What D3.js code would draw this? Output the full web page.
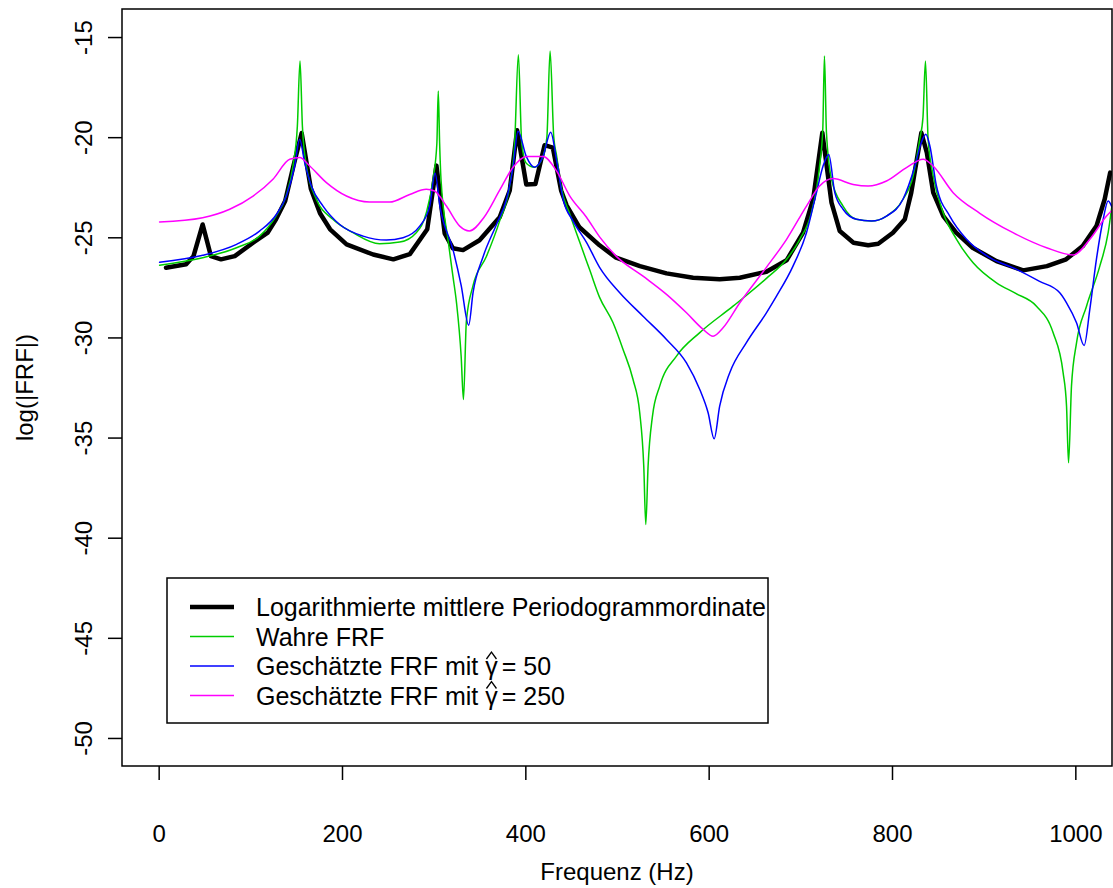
<!DOCTYPE html>
<html>
<head>
<meta charset="utf-8">
<script src="https://cdn.jsdelivr.net/npm/d3@7"></script>
<style>
  body { margin: 0; background: #fff; }
  svg text { font-family: "Liberation Sans", Arial, sans-serif; fill: #000; }
</style>
</head>
<body>
<svg id="chart" width="1113" height="888"></svg>
<script>
// Logarithmierte mittlere Periodogrammordinate (schwarz)
const periodogramFreq = [8, 30, 38, 48, 57, 68, 83, 103, 119, 128, 138, 147, 156, 166, 176, 187, 205, 234, 256, 274, 293, 303, 312, 321, 332, 350, 372, 383, 391, 401, 411, 421, 430, 439, 445, 459, 481, 499, 525, 554, 583, 612, 634, 663, 685, 703, 714, 724, 734, 743, 758, 774, 785, 801, 814, 821, 832, 838, 845, 856, 870, 888, 914, 943, 969, 990, 1008, 1023, 1032, 1038];
const periodogramLog = [-26.52, -26.35, -25.94, -24.36, -25.94, -26.1, -25.94, -25.27, -24.77, -24.1, -23.19, -21.44, -19.8, -22.57, -23.8, -24.6, -25.35, -25.86, -26.1, -25.84, -24.6, -21.42, -24.8, -25.55, -25.64, -25.15, -24.0, -22.66, -19.65, -22.36, -22.34, -20.4, -20.52, -22.66, -23.4, -24.5, -25.4, -26.02, -26.44, -26.8, -27.02, -27.1, -27.02, -26.72, -26.15, -24.77, -23.1, -19.78, -23.27, -24.69, -25.27, -25.4, -25.32, -24.77, -24.1, -22.77, -19.78, -20.77, -22.77, -23.94, -24.77, -25.52, -26.19, -26.65, -26.44, -26.1, -25.44, -24.44, -23.1, -21.77];

// Wahre FRF (gruen)
const trueFreq = [1, 48, 85, 110, 128, 139, 146.5, 151.3, 154.2, 156.8, 161.2, 172, 190, 212, 241, 263, 281, 292, 299.3, 303.5, 305, 306.5, 308, 315.6, 321, 325, 330, 332.5, 335.7, 343, 357.5, 372, 383, 388.4, 392.4, 396, 401, 410, 419, 423.5, 427, 431, 434, 439.4, 448.4, 459.4, 470, 481, 495.7, 506.6, 517.5, 524.8, 529.2, 531.4, 533.9, 538.7, 546.6, 564.9, 590, 626.6, 663, 685, 699.4, 712, 721, 724.5, 726.3, 728.5, 734, 746.6, 761, 777.6, 794, 812, 823, 830.3, 833.8, 836.5, 839.4, 845, 855.8, 870.4, 888.5, 914, 935, 957.6, 975.8, 986.7, 990.4, 992.6, 995.8, 1001.3, 1012.2, 1026.7, 1035.8, 1040];
const trueLog = [-26.39, -26.02, -25.52, -24.94, -23.94, -22.94, -21.44, -19.45, -16.2, -19.45, -21.44, -23.1, -24.1, -24.77, -25.32, -25.24, -24.77, -23.77, -22.1, -20.3, -17.7, -20.3, -22.1, -25.1, -26.94, -28.3, -30.95, -33.1, -29.17, -27.4, -25.96, -24.18, -22.4, -20.25, -15.88, -20.25, -21.3, -21.5, -21.0, -20.0, -15.7, -20.0, -20.9, -22.56, -23.82, -25.25, -26.6, -28.0, -29.27, -30.6, -32.1, -33.76, -36.43, -39.34, -36.43, -33.93, -32.43, -30.93, -29.77, -28.44, -27.05, -26.1, -25.1, -23.77, -21.44, -19.6, -15.95, -19.78, -22.1, -23.44, -24.1, -24.19, -23.94, -23.1, -21.94, -20.1, -19.0, -16.2, -20.1, -21.94, -23.77, -25.1, -26.27, -27.27, -27.8, -28.44, -29.77, -31.77, -33.43, -36.26, -32.43, -30.27, -28.44, -26.44, -24.77, -23.4];

// Geschaetzte FRF mit gamma = 50 (blau)
const est50Freq = [1, 48, 85, 110, 128.4, 139.3, 148.4, 153.8, 159.3, 166.6, 179.3, 197.5, 223, 248.4, 266.6, 284.8, 295.7, 301.5, 307, 321, 330, 338.2, 343, 354, 368.5, 379.4, 386.6, 392, 401, 410, 419.3, 427.7, 434, 441.2, 452, 466.7, 481, 503, 528.4, 554, 575.8, 590.3, 599.4, 606, 612, 623, 641, 663, 674, 692, 706.7, 717.6, 724.8, 731, 737.6, 746.6, 761.2, 777.6, 794, 812, 825, 832, 836.9, 841.3, 848.5, 863, 881.3, 906.7, 935.8, 961, 983, 990.4, 1001.3, 1009.6, 1015.8, 1023, 1030.4, 1035.8, 1040];
const est50Log = [-26.24, -25.9, -25.35, -24.69, -23.86, -22.94, -21.44, -20.1, -21.27, -22.44, -23.44, -24.36, -24.94, -25.14, -25.02, -24.44, -23.44, -21.8, -23.5, -25.6, -27.4, -29.39, -27.75, -25.96, -24.36, -23.1, -21.5, -19.7, -20.96, -21.5, -20.96, -19.75, -21.14, -23.1, -24.18, -25.25, -26.5, -27.77, -28.94, -30.1, -31.27, -32.6, -33.76, -35.06, -33.43, -31.76, -30.27, -28.77, -27.94, -26.44, -24.77, -22.77, -21.44, -20.86, -22.77, -23.6, -24.1, -24.19, -23.94, -23.1, -21.44, -20.27, -19.86, -20.44, -22.44, -23.94, -25.1, -26.02, -26.6, -27.2, -27.77, -28.27, -29.27, -30.4, -28.6, -26.1, -24.1, -23.19, -23.5];

// Geschaetzte FRF mit gamma = 250 (magenta)
const est250Freq = [1, 48, 77.5, 103, 124.7, 143, 153.8, 164.8, 183, 204.8, 230, 252, 273.9, 292, 301, 313.9, 328.4, 339, 355, 372, 386.6, 401, 419.3, 434, 448.4, 466.7, 481, 499, 528.4, 554, 575.8, 594, 604.8, 615.7, 634, 663, 685, 706.7, 721, 735.7, 757.6, 774, 794, 815.8, 834, 844.8, 866.7, 895.8, 932, 968.6, 997.6, 1015.8, 1034, 1041];
const est250Log = [-24.24, -24.02, -23.6, -22.94, -22.1, -21.1, -21.02, -21.44, -22.27, -22.94, -23.24, -23.24, -22.86, -22.6, -22.69, -23.44, -24.44, -24.68, -24.0, -22.65, -21.5, -20.96, -20.96, -21.68, -22.93, -24.0, -24.98, -25.94, -26.94, -27.85, -28.77, -29.6, -29.94, -29.52, -28.27, -26.5, -25.1, -23.44, -22.44, -22.07, -22.36, -22.44, -22.19, -21.52, -21.1, -21.44, -22.77, -23.8, -24.77, -25.52, -25.88, -25.1, -23.94, -23.6];

const xTicks = [0, 200, 400, 600, 800, 1000];
const yTicks = [-50, -45, -40, -35, -30, -25, -20, -15];

const legendLabels = ["Logarithmierte mittlere Periodogrammordinate", "Wahre FRF", "Geschätzte FRF mit γ", "Geschätzte FRF mit γ"];
const legendGamma = [null, null, "50", "250"];
const legendColors = ["#000000", "#00CD00", "#0000FF", "#FF00FF"];
const legendWidths = [4.5, 1.5, 1.5, 1.5];

const plotLeft = 122, plotRight = 1112, plotTop = 9, plotBottom = 766;

const svg = d3.select("#chart");

const x = d3.scaleLinear().domain([-40, 1040]).range([plotLeft, plotRight]);
const y = d3.scaleLinear().domain([-51.4, -13.6]).range([plotBottom, plotTop]);

svg.append("defs").append("clipPath")
    .attr("id", "plotClip")
    .append("rect")
    .attr("x", plotLeft).attr("y", plotTop)
    .attr("width", plotRight - plotLeft).attr("height", plotBottom - plotTop);

const series = [
    { freq: periodogramFreq, vals: periodogramLog, color: "#000000", width: 4.5, curve: d3.curveLinear },
    { freq: trueFreq, vals: trueLog, color: "#00CD00", width: 1.5, curve: d3.curveMonotoneX },
    { freq: est50Freq, vals: est50Log, color: "#0000FF", width: 1.5, curve: d3.curveMonotoneX },
    { freq: est250Freq, vals: est250Log, color: "#FF00FF", width: 1.5, curve: d3.curveMonotoneX }
];

const plotArea = svg.append("g").attr("clip-path", "url(#plotClip)");
series.forEach(s => {
    const line = d3.line()
        .x(d => x(d[0]))
        .y(d => y(d[1]))
        .curve(s.curve);
    plotArea.append("path")
        .datum(s.freq.map((f, i) => [f, s.vals[i]]))
        .attr("fill", "none")
        .attr("stroke", s.color)
        .attr("stroke-width", s.width)
        .attr("stroke-linejoin", "round")
        .attr("stroke-linecap", "round")
        .attr("d", line);
});

// Rahmen
svg.append("rect")
    .attr("x", plotLeft).attr("y", plotTop)
    .attr("width", plotRight - plotLeft).attr("height", plotBottom - plotTop)
    .attr("fill", "none")
    .attr("stroke", "#000")
    .attr("stroke-width", 1.5);

// x-Achse
const xAxis = svg.append("g")
    .attr("transform", `translate(0,${plotBottom})`)
    .call(d3.axisBottom(x).tickValues(xTicks).tickSize(14).tickFormat(d3.format("d")));
xAxis.select(".domain").remove();
xAxis.selectAll("line").attr("stroke", "#000").attr("stroke-width", 1.5);
xAxis.selectAll("text")
    .attr("y", 76)
    .attr("dy", 0)
    .style("font-size", "24px")
    .style("font-family", "'Liberation Sans', Arial, sans-serif");

// y-Achse
const yAxis = svg.append("g")
    .attr("transform", `translate(${plotLeft},0)`)
    .call(d3.axisLeft(y).tickValues(yTicks).tickSize(14));
yAxis.select(".domain").remove();
yAxis.selectAll("line").attr("stroke", "#000").attr("stroke-width", 1.5);
yAxis.selectAll("text")
    .attr("x", 0)
    .attr("y", -30)
    .attr("dy", 0)
    .attr("text-anchor", "middle")
    .attr("transform", "rotate(-90)")
    .style("font-size", "24px")
    .style("font-family", "'Liberation Sans', Arial, sans-serif")
    .text(d => String(d));

// Achsentitel
svg.append("text")
    .attr("x", (plotLeft + plotRight) / 2)
    .attr("y", 880)
    .attr("text-anchor", "middle")
    .style("font-size", "24px")
    .text("Frequenz (Hz)");

svg.append("text")
    .attr("transform", `translate(33,${(plotTop + plotBottom) / 2}) rotate(-90)`)
    .attr("text-anchor", "middle")
    .style("font-size", "24px")
    .text("log(|FRF|)");

// Legende
const legend = svg.append("g");
legend.append("rect")
    .attr("x", 167).attr("y", 578)
    .attr("width", 601).attr("height", 145)
    .attr("fill", "#fff")
    .attr("stroke", "#000")
    .attr("stroke-width", 1.5);

const rowY = [607, 636.5, 666, 695.5];
legendLabels.forEach((label, i) => {
    const ly = rowY[i];
    legend.append("line")
        .attr("x1", 190).attr("x2", 234)
        .attr("y1", ly).attr("y2", ly)
        .attr("stroke", legendColors[i])
        .attr("stroke-width", legendWidths[i]);
    const t = legend.append("text")
        .attr("x", 256)
        .attr("y", ly + 9)
        .style("font-size", "25px");
    t.append("tspan").text(label);
    if (legendGamma[i]) {
        t.append("tspan")
            .attr("dx", 4)
            .style("white-space", "pre")
            .text("= " + legendGamma[i]);
        // Dach ueber gamma (hat), als kleine Linie gezeichnet
        const node = t.node();
        const gi = label.length - 1;
        const gx0 = node.getStartPositionOfChar(gi).x;
        const gx1 = node.getEndPositionOfChar(gi).x;
        const cx = (gx0 + gx1) / 2;
        legend.append("path")
            .attr("d", `M${cx - 5},${ly - 7} L${cx},${ly - 14} L${cx + 5},${ly - 7}`)
            .attr("fill", "none")
            .attr("stroke", "#000")
            .attr("stroke-width", 1.3);
    }
});
</script>
</body>
</html>
